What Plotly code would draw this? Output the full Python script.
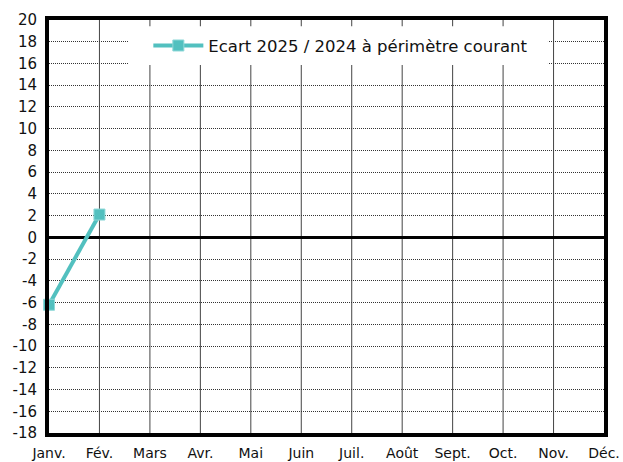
import plotly.graph_objects as go

months = ["Janv.", "Fév.", "Mars", "Avr.", "Mai", "Juin", "Juil.", "Août", "Sept.", "Oct.", "Nov.", "Déc."]
ecart_months = ["Janv.", "Fév."]
ecart_values = [-6.2, 2.1]
y_ticks = list(range(-18, 21, 2))
y_tick_labels = [str(v) for v in y_ticks]
series_name = "Ecart 2025 / 2024 à périmètre courant"

fig = go.Figure()
fig.add_trace(go.Scatter(
    x=[months.index(m) for m in ecart_months],
    y=ecart_values,
    mode="lines+markers",
    name=series_name,
    line=dict(color="#52C0BF", width=4),
    marker=dict(symbol="square", size=11, color="#52C0BF", line=dict(color="#8FD8D8", width=1)),
    cliponaxis=False,
))

# vertical month lines
for i in range(1, len(months) - 1):
    fig.add_shape(type="line", xref="x", yref="paper", x0=i, x1=i, y0=0, y1=1,
                  line=dict(color="#444", width=1), layer="below")

# white legend box
fig.add_shape(type="rect", xref="paper", yref="paper", x0=0.1423, x1=0.899, y0=0.891, y1=0.985,
              line=dict(width=0), fillcolor="white", layer="above")

fig.update_layout(
    width=623, height=462,
    margin=dict(l=49, r=19, t=20, b=29, autoexpand=False),
    paper_bgcolor="white", plot_bgcolor="white",
    font=dict(family="DejaVu Sans, sans-serif", size=14.5, color="#111"),
    showlegend=True,
    legend=dict(
        x=0.179, y=0.98, xanchor="left", yanchor="top",
        bgcolor="rgba(0,0,0,0)", borderwidth=0,
        font=dict(size=16.5, color="#111"),
        itemwidth=50,
    ),
    xaxis=dict(
        range=[0, 11],
        tickvals=list(range(len(months))),
        ticktext=months,
        showgrid=False,
        showline=True, linecolor="black", linewidth=4, mirror=True,
        ticks="", zeroline=False, automargin=False,
        tickfont=dict(size=14), ticklabelstandoff=4,
    ),
    yaxis=dict(
        range=[-18, 20],
        tickvals=y_ticks, ticktext=y_tick_labels,
        showgrid=True, gridcolor="#333", gridwidth=1, griddash="1px,1px",
        showline=True, linecolor="black", linewidth=4, mirror=True,
        zeroline=True, zerolinecolor="black", zerolinewidth=3,
        ticks="", tickfont=dict(size=15), automargin=False, ticklabelstandoff=5,
    ),
)

fig.write_html(
    "out.html",
    config={"displayModeBar": False},
    post_script="document.body.style.margin='0';document.body.style.overflow='hidden';",
)
